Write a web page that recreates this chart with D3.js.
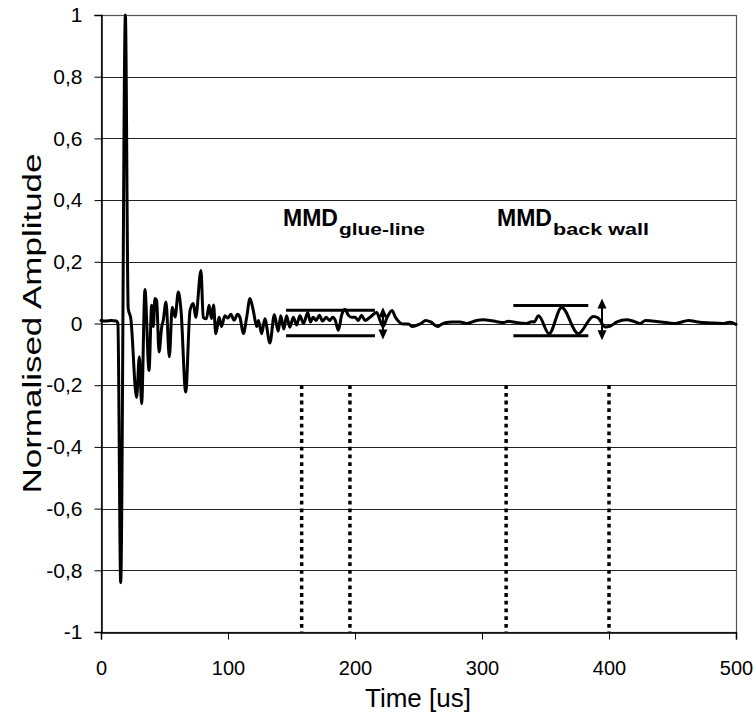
<!DOCTYPE html>
<html>
<head>
<meta charset="utf-8">
<script src="https://cdn.jsdelivr.net/npm/d3@7/dist/d3.min.js"></script>
<style>
  html, body { margin: 0; padding: 0; background: #fff; }
  svg { display: block; }
  text { font-family: "Liberation Sans", Arial, sans-serif; fill: #000; }
</style>
</head>
<body>
<svg id="chart" width="756" height="714"></svg>
<script>
// ---- Data ----
const timeUs = [0, 4, 8, 12, 13.3, 15.5, 19.2, 21.4, 23.5, 28.0, 30.2, 32.0, 34.6, 37.8, 39.9, 41.2, 42.5, 43.8, 45.7, 47.8, 49.0,
  51.2, 53.8, 56.1, 58.3, 60.9, 63.0, 66.7, 70.1, 72.7, 74.6, 78.7, 80.5, 83.0, 85.1, 87.0, 88.6, 90.4, 93.0, 94.9, 97.5,
  100.0, 102.2, 104.8, 107.5, 109.4, 112.1, 114.7, 117.3, 120.0, 122.6, 124.0, 126.5, 129.0, 133.0, 136.5, 139.5, 141.5,
  144.0, 146.1, 148.7, 151.4, 154.0, 156.6, 159.5, 162.8, 164.9, 167.0, 169.5, 171.9, 174.5, 177.2, 180.0, 182.5, 184.5,
  186.9, 189.5, 192.1, 194.7, 197.3, 200.0, 202.6, 205.2, 207.8, 211.8, 217.1, 219.7, 222.0, 225.3, 229.2, 231.8, 235.3,
  238.0, 242.0, 245.3, 249.0, 252.0, 255.7, 259.6, 265.0, 268.0, 272.0, 276.1, 282.7, 288.0, 295.8, 301.0, 306.3, 311.5,
  317.0, 320.7, 327.0, 335.1, 339.0, 341.0, 344.5, 352.8, 362.7, 375.8, 387.7, 391.5, 396.9, 401.0, 406.3, 413.9, 420.0,
  424.5, 428.8, 434.0, 441.0, 452.0, 462.6, 470.0, 480.0, 489.5, 495.0, 500.0];
const amplitude = [0.010, 0.008, 0.010, 0.008, 0.000, -0.84, 1.00, 0.050, 0.015, -0.240, -0.108, -0.260, 0.110, -0.152, 0.059, -0.010, 0.081, 0.075, -0.092, -0.011, 0.010,
  0.070, -0.108, 0.053, 0.021, 0.102, 0.043, -0.222, 0.043, 0.065, 0.020, 0.172, 0.020, 0.015, 0.059, 0.016, 0.060, -0.033, 0.020, -0.010, 0.025,
  0.018, 0.030, 0.011, 0.030, 0.020, -0.033, 0.020, 0.081, 0.040, -0.010, 0.010, -0.033, 0.015, -0.063, 0.028, -0.025, 0.025,
  -0.018, 0.025, -0.012, 0.020, -0.005, 0.025, 0.000, 0.036, 0.005, 0.020, 0.010, 0.027, 0.008, 0.020, 0.010, 0.020, 0.010,
  -0.022, 0.027, 0.046, 0.027, 0.020, 0.020, 0.010, 0.027, 0.010, 0.020, 0.036, 0.010, -0.010, 0.020, 0.042, 0.020, 0.003,
  -0.002, -0.002, -0.010, -0.005, 0.000, 0.010, 0.005, -0.010, -0.003, 0.003, 0.005, 0.005, 0.000, 0.010, 0.012, 0.010, 0.006,
  0.003, 0.007, 0.003, 0.000, 0.006, 0.005, 0.025, -0.033, 0.052, -0.033, 0.023, 0.018, -0.011, -0.008, 0.005, 0.012, 0.006,
  0.000, 0.010, 0.008, 0.005, 0.000, 0.010, 0.005, 0.002, 0.000, 0.004, -0.003];

const xTicks = [0, 100, 200, 300, 400, 500];
const yTicks = [-1, -0.8, -0.6, -0.4, -0.2, 0, 0.2, 0.4, 0.6, 0.8, 1];
const yTickLabels = ["-1", "-0,8", "-0,6", "-0,4", "-0,2", "0", "0,2", "0,4", "0,6", "0,8", "1"];
const gateTimes = [158, 196, 319, 400];          // dotted gate markers (us)
const gateTop = -0.2;                               // dotted markers start at this amplitude
// MMD bracket annotations: [startTime, endTime, upper, lower, arrowTime, arrowTop, arrowBottom]
const mmdGlue = [145.7, 215.7, 0.043, -0.040, 222.0, 0.053, -0.052];
const mmdBack = [324.7, 383.7, 0.058, -0.040, 394.5, 0.081, -0.054];
const mmdLabels = [
  { main: "MMD", sub: "glue-line", t: 143.3, v: 0.315 },
  { main: "MMD", sub: "back wall", t: 311.8, v: 0.315 }
];
const xTitle = "Time [us]";
const yTitle = "Normalised Amplitude";

// ---- Layout ----
const svg = d3.select("#chart");
const L = 101, R = 736, T = 15, B = 632;
const x = d3.scaleLinear().domain([0, 500]).range([L, R]);
const y = d3.scaleLinear().domain([-1, 1]).range([B, T]);

// gridlines
svg.append("g").selectAll("line").data(yTicks.slice(1, -1)).join("line")
  .attr("x1", L).attr("x2", R)
  .attr("y1", d => Math.round(y(d)) + 0.5).attr("y2", d => Math.round(y(d)) + 0.5)
  .attr("stroke", "#222").attr("stroke-width", 1);

// frame
svg.append("rect").attr("x", L + 0.5).attr("y", Math.round(T) + 0.5)
  .attr("width", R - L).attr("height", Math.round(B) - Math.round(T))
  .attr("fill", "none").attr("stroke", "#555").attr("stroke-width", 1.2);

// axes
const yAxis = d3.axisLeft(y).tickValues(yTicks).tickFormat((d, i) => yTickLabels[i]).tickSize(7).tickPadding(12);
const gy = svg.append("g").attr("transform", `translate(${L + 0.5},0)`).call(yAxis);
gy.select(".domain").attr("stroke", "#000").attr("stroke-width", 1.5);
gy.selectAll(".tick line").attr("stroke", "#000");
gy.selectAll("text").style("font-size", "21px").style("font-family", "'Liberation Sans', Arial, sans-serif");

const xAxis = d3.axisBottom(x).tickValues(xTicks).tickFormat(d3.format("d")).tickSize(7).tickPadding(21);
const gx = svg.append("g").attr("transform", `translate(0,${Math.round(B) + 0.5})`).call(xAxis);
gx.select(".domain").attr("stroke", "#000").attr("stroke-width", 1.5);
gx.selectAll(".tick line").attr("stroke", "#000");
gx.selectAll("text").style("font-size", "20px").style("font-family", "'Liberation Sans', Arial, sans-serif");

// titles
svg.append("text").attr("x", 418).attr("y", 707).attr("text-anchor", "middle")
  .style("font-size", "26px").text(xTitle);
svg.append("text").attr("transform", `translate(41,${(T + B) / 2}) rotate(-90)`).attr("text-anchor", "middle")
  .style("font-size", "26px").attr("textLength", 340).attr("lengthAdjust", "spacingAndGlyphs").text(yTitle);

// dotted gate markers
svg.append("g").selectAll("line").data(gateTimes).join("line")
  .attr("x1", d => x(d)).attr("x2", d => x(d))
  .attr("y1", y(gateTop)).attr("y2", y(-1))
  .attr("stroke", "#000").attr("stroke-width", 3.5).attr("stroke-dasharray", "3.8,3.9");

// waveform
const pts = timeUs.map((t, i) => [t, amplitude[i]]);
svg.append("path").datum(pts)
  .attr("fill", "none").attr("stroke", "#000").attr("stroke-width", 3)
  .attr("stroke-linejoin", "round").attr("stroke-linecap", "round")
  .attr("d", d3.line().x(d => x(d[0])).y(d => y(d[1])).curve(d3.curveMonotoneX));

// MMD brackets and arrows
function bracket(m) {
  const g = svg.append("g");
  [m[2], m[3]].forEach(v => {
    g.append("line").attr("x1", x(m[0])).attr("x2", x(m[1])).attr("y1", y(v)).attr("y2", y(v))
      .attr("stroke", "#000").attr("stroke-width", 3);
  });
  const ax = x(m[4]), a1 = y(m[5]), a2 = y(m[6]);
  const hl = 10, hw = 4.5;
  g.append("line").attr("x1", ax).attr("x2", ax).attr("y1", a1 + hl - 1).attr("y2", a2 - hl + 1)
    .attr("stroke", "#000").attr("stroke-width", 2);
  g.append("path").attr("d", `M${ax},${a1} L${ax - hw},${a1 + hl} L${ax + hw},${a1 + hl} Z`).attr("fill", "#000");
  g.append("path").attr("d", `M${ax},${a2} L${ax - hw},${a2 - hl} L${ax + hw},${a2 - hl} Z`).attr("fill", "#000");
}
bracket(mmdGlue);
bracket(mmdBack);

// labels
const subLen = { "glue-line": 86, "back wall": 96 };
mmdLabels.forEach(l => {
  svg.append("text").attr("x", x(l.t)).attr("y", y(l.v))
    .style("font-weight", "bold").style("font-size", "23px").text(l.main);
  svg.append("text").attr("x", x(l.t) + 56).attr("y", y(l.v) + 9)
    .style("font-weight", "bold").style("font-size", "17px")
    .attr("textLength", subLen[l.sub]).attr("lengthAdjust", "spacingAndGlyphs").text(l.sub);
});
</script>
</body>
</html>
